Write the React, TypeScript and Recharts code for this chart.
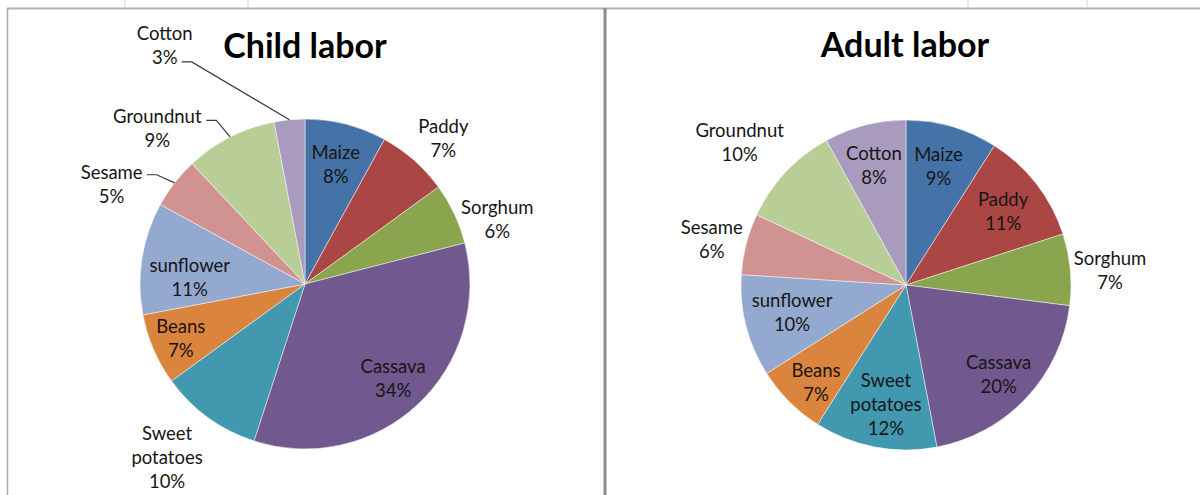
import { PieChart, Pie, Cell } from 'recharts'

const crops = ['Maize', 'Paddy', 'Sorghum', 'Cassava', 'Sweet potatoes', 'Beans', 'sunflower', 'Sesame', 'Groundnut', 'Cotton']
const childShare = [8, 7, 6, 34, 10, 7, 11, 5, 9, 3]
const adultShare = [9, 11, 7, 20, 12, 7, 10, 6, 10, 8]

const COLORS = [
  '#4572A7', // blue
  '#AA4643', // red
  '#89A54E', // green
  '#71588F', // purple
  '#4198AF', // teal
  '#DB843D', // orange
  '#93A9CF', // light blue
  '#D19392', // pink
  '#B9CD96', // light green
  '#A99BBD', // lavender
]

const FONT = 'Lato, "Open Sans", sans-serif'
const RAD = Math.PI / 180
const LINE_H = 24

// label placement per slice: radius factor, clockwise turn from mid angle, optional leader start offset
interface LabelSpot {
  r: number
  turn: number
  leader?: [number, number]
}

const childSpots: LabelSpot[] = [
  { r: 0.75, turn: 0 },
  { r: 1.22, turn: 2 },
  { r: 1.23, turn: 6.5 },
  { r: 0.78, turn: 0 },
  { r: 1.34, turn: 2.6 },
  { r: 0.82, turn: 0 },
  { r: 0.7, turn: -5.5 },
  { r: 1.32, turn: -10.4, leader: [35, -9] },
  { r: 1.3, turn: -16.5, leader: [49, -8] },
  { r: 1.68, turn: -25, leader: [17, 17] },
]

const adultSpots: LabelSpot[] = [
  { r: 0.75, turn: -1 },
  { r: 0.74, turn: 0.5 },
  { r: 1.24, turn: 1.2 },
  { r: 0.78, turn: 0.8 },
  { r: 0.73, turn: -1.2 },
  { r: 0.8, turn: -2 },
  { r: 0.71, turn: 1 },
  { r: 1.21, turn: -1 },
  { r: 1.33, turn: -2.5 },
  { r: 0.75, turn: -0.6 },
]

const childData = crops.map((name, i) => ({ name, value: childShare[i] }))
const adultData = crops.map((name, i) => ({ name, value: adultShare[i] }))

function makeLabel(spots: LabelSpot[]) {
  return function SliceLabel(props: any) {
    const { cx, cy, midAngle, outerRadius, index, percent } = props
    const name: string = props.name ?? props.payload?.name ?? ''
    const spot = spots[index]
    const a = (midAngle - spot.turn) * RAD
    const lx = cx + outerRadius * spot.r * Math.cos(a)
    const ly = cy - outerRadius * spot.r * Math.sin(a)
    const lines = [...name.split(' '), `${Math.round(percent * 100)}%`]
    const top = ly - ((lines.length - 1) * LINE_H) / 2

    let leader = null
    if (spot.leader) {
      const sx = lx + spot.leader[0]
      const sy = ly + spot.leader[1]
      const ex = cx + outerRadius * Math.cos(midAngle * RAD)
      const ey = cy - outerRadius * Math.sin(midAngle * RAD)
      leader = (
        <polyline
          points={`${sx},${sy} ${sx + 10},${sy} ${ex},${ey}`}
          fill="none"
          stroke="#3a3a3a"
          strokeWidth={1.2}
        />
      )
    }

    return (
      <g>
        {leader}
        <text
          x={lx}
          y={top}
          textAnchor="middle"
          fill="#161616"
          fontSize={18.5}
          fontFamily={FONT}
        >
          {lines.map((ln, i) => (
            <tspan key={i} x={lx} y={top + i * LINE_H} dominantBaseline="central">
              {ln}
            </tspan>
          ))}
        </text>
      </g>
    )
  }
}

export default function App() {
  return (
    <div style={{ position: 'absolute', left: 0, top: 0, width: 1200, height: 495, background: '#fff' }}>
      <svg width={1200} height={495} style={{ position: 'absolute', left: 0, top: 0 }}>
        {[125, 248, 968, 1087].map((x) => (
          <line key={x} x1={x} y1={0} x2={x} y2={7} stroke="#d6d6d6" strokeWidth={1} />
        ))}
        <line x1={7} y1={8.5} x2={1200} y2={8.5} stroke="#b4b4b4" strokeWidth={2} />
        <line x1={7.5} y1={8} x2={7.5} y2={495} stroke="#a8a8a8" strokeWidth={1.5} />
        <line x1={605} y1={8} x2={605} y2={495} stroke="#8c8c8c" strokeWidth={3} />
      </svg>
      <div style={{ position: 'absolute', left: 0, top: 0 }}>
        <PieChart width={1200} height={495} margin={{ top: 0, right: 0, bottom: 0, left: 0 }}>
          <Pie
            data={childData}
            dataKey="value"
            nameKey="name"
            cx={305}
            cy={284}
            outerRadius={165}
            startAngle={90}
            endAngle={-270}
            stroke="rgba(255,255,255,0.6)"
            strokeWidth={0.8}
            label={makeLabel(childSpots)}
            labelLine={false}
            isAnimationActive={false}
          >
            {childData.map((d, i) => (
              <Cell key={d.name} fill={COLORS[i % COLORS.length]} />
            ))}
          </Pie>
          <Pie
            data={adultData}
            dataKey="value"
            nameKey="name"
            cx={906}
            cy={285}
            outerRadius={165}
            startAngle={90}
            endAngle={-270}
            stroke="rgba(255,255,255,0.6)"
            strokeWidth={0.8}
            label={makeLabel(adultSpots)}
            labelLine={false}
            isAnimationActive={false}
          >
            {adultData.map((d, i) => (
              <Cell key={d.name} fill={COLORS[i % COLORS.length]} />
            ))}
          </Pie>
        </PieChart>
      </div>
      <svg width={1200} height={495} style={{ position: 'absolute', left: 0, top: 0, pointerEvents: 'none' }}>
        <text x={305} y={58} textAnchor="middle" fontSize={34} fontWeight={700} fontFamily={FONT} fill="#000">
          Child labor
        </text>
        <text x={905} y={57} textAnchor="middle" fontSize={34} fontWeight={700} fontFamily={FONT} fill="#000">
          Adult labor
        </text>
      </svg>
    </div>
  )
}
